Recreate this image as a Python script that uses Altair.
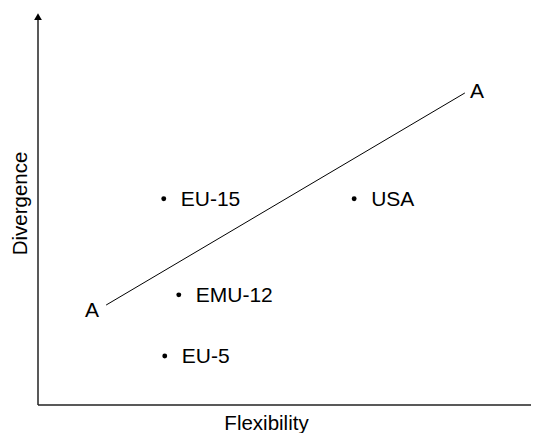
import altair as alt
import pandas as pd

# Economies positioned by flexibility (x) and divergence (y), arbitrary units
names = ["EU-15", "USA", "EMU-12", "EU-5"]
flex = [2.51, 6.31, 2.81, 2.53]
diverg = [5.26, 5.26, 2.81, 1.25]

# The A–A line
line_x = [1.36, 8.52]
line_y = [2.55, 7.96]
a_label_x = [1.08, 8.76]
a_label_y = [2.40, 7.98]
a_labels = ["A", "A"]

# Axis arrows (axis lines drawn as part of the diagram)
xaxis_x = [0.0, 9.90]
xaxis_y = [0.0, 0.0]
yaxis_x = [0.0, 0.0]
yaxis_y = [0.0, 9.85]
arrow_x = [9.92, 0.0]
arrow_y = [0.0, 9.91]
arrow_shape = ["triangle-right", "triangle-up"]

FONT = "Liberation Sans"
FS = 21

pts = pd.DataFrame({"name": names, "x": flex, "y": diverg})
line_df = pd.DataFrame({"x": line_x, "y": line_y})
a_df = pd.DataFrame({"x": a_label_x, "y": a_label_y, "t": a_labels})
xax = pd.DataFrame({"x": xaxis_x, "y": xaxis_y})
yax = pd.DataFrame({"x": yaxis_x, "y": yaxis_y})
arr = pd.DataFrame({"x": arrow_x, "y": arrow_y, "s": arrow_shape})

xs = alt.Scale(domain=[0, 9.84], nice=False, zero=False)
ys = alt.Scale(domain=[0, 10], nice=False, zero=False)

x_axis = alt.Axis(domain=False, ticks=False, labels=False, grid=False,
                  title="Flexibility", titleFont=FONT, titleFontSize=20.5,
                  titleFontWeight="normal", titleColor="black",
                  titleX=228, titleY=24, titleAlign="center",
                  titleBaseline="alphabetic")
y_axis = alt.Axis(domain=False, ticks=False, labels=False, grid=False,
                  title="Divergence", titleFont=FONT, titleFontSize=20.5,
                  titleFontWeight="normal", titleColor="black",
                  titleX=-12, titleY=190, titleAngle=270, titleAlign="center",
                  titleBaseline="alphabetic")

def X():
    return alt.X("x:Q", scale=xs, axis=x_axis)

def Y():
    return alt.Y("y:Q", scale=ys, axis=y_axis)

x_line = alt.Chart(xax).mark_line(color="#222222", strokeWidth=1.5).encode(x=X(), y=Y())
y_line = alt.Chart(yax).mark_line(color="#222222", strokeWidth=1.5).encode(x=X(), y=Y())
arrows = alt.Chart(arr).mark_point(filled=True, color="black", size=60, opacity=1).encode(
    x=X(), y=Y(), shape=alt.Shape("s:N", scale=None))

aa_line = alt.Chart(line_df).mark_line(color="black", strokeWidth=1).encode(x=X(), y=Y())
aa_text = alt.Chart(a_df).mark_text(font=FONT, fontSize=FS, color="black",
                                     align="center", baseline="middle").encode(
    x=X(), y=Y(), text="t:N")

dots = alt.Chart(pts).mark_circle(color="black", size=24, opacity=1).encode(x=X(), y=Y())
labels = alt.Chart(pts).mark_text(font=FONT, fontSize=FS, color="black",
                                  align="left", baseline="middle", dx=17, dy=1).encode(
    x=X(), y=Y(), text="name:N")

chart = alt.layer(x_line, y_line, arrows, aa_line, aa_text, dots, labels).properties(
    width=493, height=392,
    autosize=alt.AutoSizeParams(type="none"),
    padding={"left": 30, "top": 5, "right": 0, "bottom": 28},
).configure(background="white").configure_view(strokeWidth=0, stroke="transparent")

chart.save("out.html", embed_options={"renderer": "svg", "actions": False})
